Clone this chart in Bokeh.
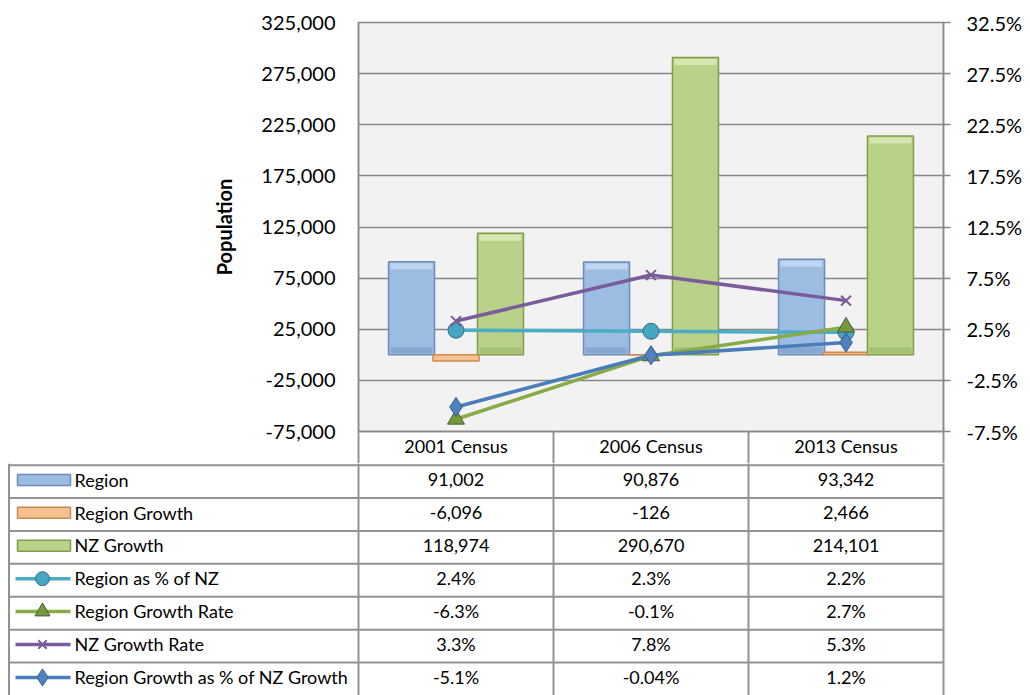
from bokeh.plotting import figure
from bokeh.models import Range1d, LinearAxis, FixedTicker, NumeralTickFormatter
from bokeh.core.properties import value
from bokeh.embed import file_html
from bokeh.resources import INLINE

# ---------------- data ----------------
categories = ["2001 Census", "2006 Census", "2013 Census"]
region = [91002, 90876, 93342]
region_growth = [-6096, -126, 2466]
nz_growth = [118974, 290670, 214101]
region_pct_nz = [0.024, 0.023, 0.022]
region_growth_rate = [-0.063, -0.001, 0.027]
nz_growth_rate = [0.033, 0.078, 0.053]
region_growth_pct_nz_growth = [-0.051, -0.0004, 0.012]

pop_ticks = [-75000, -25000, 25000, 75000, 125000, 175000, 225000, 275000, 325000]
pct_ticks = [-0.075, -0.025, 0.025, 0.075, 0.125, 0.175, 0.225, 0.275, 0.325]

# name, values, fill, outline, top bevel, bottom bevel
bar_series = [
    ("Region", region, "#9dbce2", "#6d8cb6", "#c0d6f0", "#88a8d2"),
    ("Region Growth", region_growth, "#f7c18f", "#c98a52", "#fbdcbc", "#e9ac74"),
    ("NZ Growth", nz_growth, "#b9d28a", "#829c4c", "#d5e6b2", "#a4c074"),
]
line_series = [
    ("Region as % of NZ", region_pct_nz, "#4bacc6", "circle", "#45a6c2", 16),
    ("Region Growth Rate", region_growth_rate, "#86ab47", "triangle", "#77983a", 17),
    ("NZ Growth Rate", nz_growth_rate, "#7a5b9c", "x", "#7a5b9c", 14),
    ("Region Growth as % of NZ Growth", region_growth_pct_nz_growth, "#4a7ebb", "diamond", "#4f81bd", 19),
]

FONT = "Lato"
GRID = "#888888"
TL = "#939393"


def fmt_pct(v):
    if v != 0 and abs(v) < 0.001:
        return f"{v * 100:.2f}%"
    return f"{v * 100:.1f}%"


n = len(categories)
centers = [i + 0.5 for i in range(n)]
offsets = [-0.228, 0.0, 0.228]
bar_w = 0.236

W = 1030
FRAME_LEFT = 358
FRAME_RIGHT = 943
FRAME_TOP = 22
FRAME_H = 409
Y0, Y1 = -75000, 325000
PX_PER_UNIT = (FRAME_RIGHT - FRAME_LEFT) / n
Y_PER_PX = (Y1 - Y0) / FRAME_H

# ---------------- chart ----------------
p = figure(width=W, height=FRAME_TOP + FRAME_H + 32, x_range=Range1d(0, n), y_range=Range1d(Y0, Y1),
           output_backend="svg", toolbar_location=None,
           min_border_left=FRAME_LEFT, min_border_right=W - FRAME_RIGHT,
           min_border_top=FRAME_TOP, min_border_bottom=32)
p.background_fill_color = "#f2f2f2"
p.border_fill_color = "white"
p.outline_line_color = GRID
p.outline_line_width = 1.5
p.xgrid.visible = False

# x axis acts as the header row of the data table
xax = p.xaxis[0]
xax.ticker = FixedTicker(ticks=centers, minor_ticks=list(range(n + 1)))
xax.major_label_overrides = {c: lab for c, lab in zip(centers, categories)}
xax.major_tick_out = 0
xax.major_tick_in = 0
xax.minor_tick_in = 0
xax.minor_tick_out = 32
xax.minor_tick_line_color = TL
xax.minor_tick_line_width = 2
xax.axis_line_color = GRID
xax.axis_line_width = 1.5
xax.major_label_standoff = -29
xax.major_label_text_font = FONT
xax.major_label_text_font_size = "18px"
xax.major_label_text_color = "black"

yax = p.yaxis[0]
yax.ticker = FixedTicker(ticks=pop_ticks)
yax.formatter = NumeralTickFormatter(format="0,0")
yax.major_tick_out = 0
yax.major_tick_in = 0
yax.minor_tick_out = 0
yax.minor_tick_in = 0
yax.axis_line_color = GRID
yax.axis_line_width = 1.5
yax.major_label_standoff = 23
yax.major_label_text_font = FONT
yax.major_label_text_font_size = "20px"
yax.major_label_text_color = "black"
yax.axis_label = "Population"
yax.axis_label_text_font = FONT
yax.axis_label_text_font_style = "bold"
yax.axis_label_text_font_size = "20px"
yax.axis_label_text_color = "black"
yax.axis_label_standoff = 22

p.ygrid.ticker = FixedTicker(ticks=pop_ticks)
p.ygrid.grid_line_color = GRID
p.ygrid.grid_line_width = 1.5

p.extra_y_ranges = {"pct": Range1d(-0.075, 0.325)}
rax = LinearAxis(y_range_name="pct", ticker=FixedTicker(ticks=pct_ticks),
                 formatter=NumeralTickFormatter(format="0.0%"))
rax.major_tick_out = 7
rax.major_tick_in = 0
rax.minor_tick_out = 0
rax.minor_tick_in = 0
rax.axis_line_color = GRID
rax.axis_line_width = 1.5
rax.major_tick_line_color = GRID
rax.major_tick_line_width = 1.5
rax.major_label_standoff = 16
rax.major_label_text_font = FONT
rax.major_label_text_font_size = "20px"
rax.major_label_text_color = "black"
p.add_layout(rax, "right")

bevel = 6 * Y_PER_PX
inset = 2.0 / PX_PER_UNIT
for (name, vals, fill, line, light, dark), off in zip(bar_series, offsets):
    xs = [c + off for c in centers]
    p.vbar(x=xs, top=vals, bottom=0, width=bar_w, fill_color=fill, line_color=line, line_width=1.5)
    big = [(x, v) for x, v in zip(xs, vals) if abs(v) > 4 * bevel]
    if big:
        bx = [b[0] for b in big]
        bv = [b[1] for b in big]
        p.vbar(x=bx, top=[v - (1 if v > 0 else -1) * 1.5 * Y_PER_PX for v in bv],
               bottom=[v - (1 if v > 0 else -1) * (1.5 * Y_PER_PX + bevel) for v in bv],
               width=bar_w - 2 * inset, fill_color=light, line_color=None)
        p.vbar(x=bx, top=[(1 if v > 0 else -1) * (1.5 * Y_PER_PX + bevel) for v in bv],
               bottom=[(1 if v > 0 else -1) * 1.5 * Y_PER_PX for v in bv],
               width=bar_w - 2 * inset, fill_color=dark, line_color=None)

for name, vals, col, marker, mcol, msize in line_series:
    p.line(x=centers, y=vals, y_range_name="pct", line_color=col, line_width=3.5)
    if marker == "x":
        p.scatter(x=centers, y=vals, y_range_name="pct", marker="x", size=msize,
                  line_color=mcol, line_width=2)
    else:
        p.scatter(x=centers, y=vals, y_range_name="pct", marker=marker, size=msize,
                  fill_color=mcol, line_color="#3d6a8a" if marker == "circle" else "#40603a" if marker == "triangle" else "#35608f",
                  line_width=1)

# ---------------- data table (body rows) ----------------


def px(xfig):
    return (xfig - FRAME_LEFT) / PX_PER_UNIT


rows = len(bar_series) + len(line_series)
t = figure(width=W, height=232, x_range=Range1d(px(0), px(W)), y_range=Range1d(rows, -0.05),
           x_axis_type=None, y_axis_type=None, output_backend="svg", toolbar_location=None,
           min_border_left=0, min_border_right=0, min_border_top=0, min_border_bottom=0)
t.outline_line_color = None
t.background_fill_color = "white"
t.border_fill_color = "white"
t.grid.visible = False

xl = px(8.5)
t.segment(x0=[xl] * rows, x1=[n] * rows, y0=list(range(rows)), y1=list(range(rows)),
          line_color=TL, line_width=2)
t.segment(x0=list(range(n + 1)) + [xl], x1=list(range(n + 1)) + [xl],
          y0=[-0.05] * (n + 2), y1=[rows] * (n + 2), line_color=TL, line_width=2)

TY = 0.44  # vertical position of text inside a row
row_names = [s[0] for s in bar_series] + [s[0] for s in line_series]
t.text(x=[px(74)] * rows, y=[i + TY for i in range(rows)], text=row_names,
       text_font=value(FONT), text_font_size="18px", text_align="left", text_baseline="middle",
       text_color="black")

r = 0
for name, vals, fill, line, light, dark in bar_series:
    t.text(x=centers, y=[r + TY] * n, text=[f"{v:,}" for v in vals], text_font=value(FONT),
           text_font_size="18px", text_align="center", text_baseline="middle", text_color="black")
    t.rect(x=[px(43.5)], y=[r + 0.45], width=53, height=11, width_units="screen", height_units="screen",
           fill_color=fill, line_color=line, line_width=1.5)
    r += 1
for name, vals, col, marker, mcol, msize in line_series:
    t.text(x=centers, y=[r + TY] * n, text=[fmt_pct(v) for v in vals], text_font=value(FONT),
           text_font_size="18px", text_align="center", text_baseline="middle", text_color="black")
    t.segment(x0=[px(15)], x1=[px(70)], y0=[r + 0.45], y1=[r + 0.45], line_color=col, line_width=3.5)
    if marker == "x":
        t.scatter(x=[px(42)], y=[r + 0.45], marker="x", size=msize - 2, line_color=mcol, line_width=2)
    else:
        t.scatter(x=[px(42)], y=[r + 0.45], marker=marker, size=msize - 2, fill_color=mcol,
                  line_color="#3d6a8a" if marker == "circle" else "#40603a" if marker == "triangle" else "#35608f",
                  line_width=1)
    r += 1

open("out.html", "w").write(file_html([p, t], INLINE))
